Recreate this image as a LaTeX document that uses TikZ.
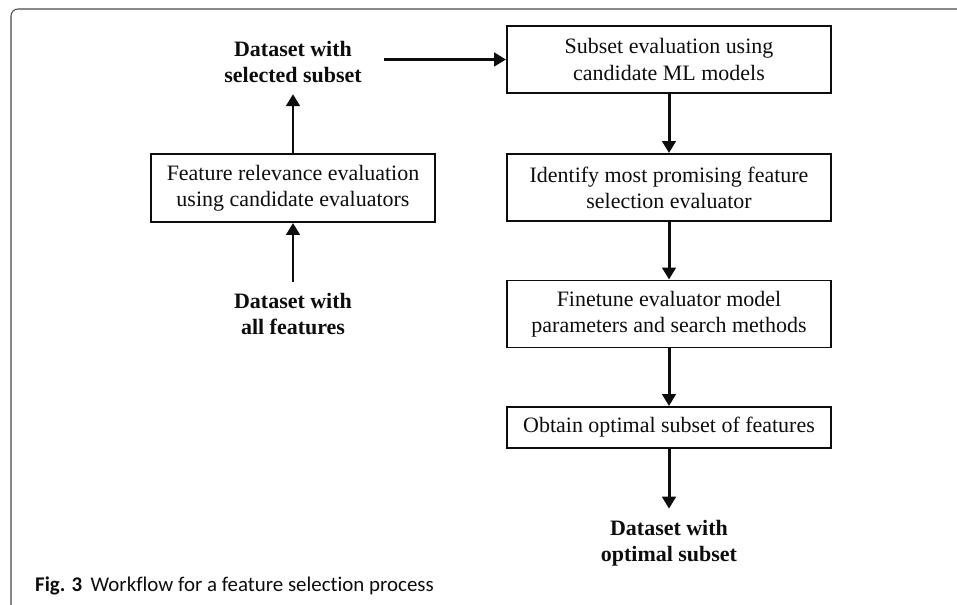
\documentclass[tikz,border=0pt]{standalone}
\usepackage{fontspec}
\setmainfont{Liberation Serif}
\newfontfamily\capfont[Ligatures=NoCommon]{Carlito}
\usepackage{xcolor}
\usetikzlibrary{arrows.meta,positioning,calc}
\definecolor{ink}{HTML}{0D0D0D}
\definecolor{rule}{HTML}{4A4A4A}

\begin{document}
\begin{tikzpicture}[x=1cm,y=1cm,font=\fontsize{12.5}{14.8}\selectfont,
  stepbox/.style={draw=ink,line width=1.1pt,align=center,inner sep=0pt,
    minimum width=6.48cm,minimum height=1.34cm,text=ink},
  data/.style={align=center,inner sep=0.22cm,text=ink,
    font=\bfseries\fontsize{12.5}{14.8}\selectfont},
  flow/.style={draw=ink,line width=1.7pt,-{Triangle[length=0.24cm,width=0.27cm]}}]
  \useasboundingbox (0,0) rectangle (19.14,12.10);
  \draw[rule,line width=0.6pt,rounded corners=0.14cm]
    (0.22,0) -- (0.22,11.92) -- (19.14,11.92);

  \node[data] (dsel) at (5.86,10.86) {Dataset with\\selected subset};
  \node[stepbox,minimum width=5.68cm,minimum height=1.36cm] (fre) at (5.86,8.34)
    {Feature relevance evaluation\\using candidate evaluators};
  \node[data] (dall) at (5.86,5.82) {Dataset with\\all features};

  \node[stepbox] (sub) at (13.38,10.91) {Subset evaluation using\\candidate ML models};
  \node[stepbox] (idf) at (13.38,8.35)
    {Identify most promising feature\\selection evaluator};
  \node[stepbox] (fin) at (13.38,5.82)
    {Finetune evaluator model\\parameters and search methods};
  \node[stepbox,minimum height=0.82cm] (opt) at (13.38,3.55)
    {Obtain optimal subset of features};
  \node[data] (dopt) at (13.38,1.24) {Dataset with\\optimal subset};

  \draw[flow] (dall) -- (fre);
  \draw[flow] (fre) -- (dsel);
  \draw[flow,shorten <=0.22cm] (dsel.east |- sub.west) -- (sub.west);
  \draw[flow] (sub) -- (idf);
  \draw[flow] (idf) -- (fin);
  \draw[flow] (fin) -- (opt);
  \draw[flow] (opt) -- (dopt);

  \node[anchor=base west,text=ink,font=\capfont\fontsize{11.9}{13}\selectfont] (cap)
    at (0.58,0.26) {\textbf{Fig. 3}\hspace{0.4em}Workflow for a feature selection process};
\end{tikzpicture}
\end{document}
